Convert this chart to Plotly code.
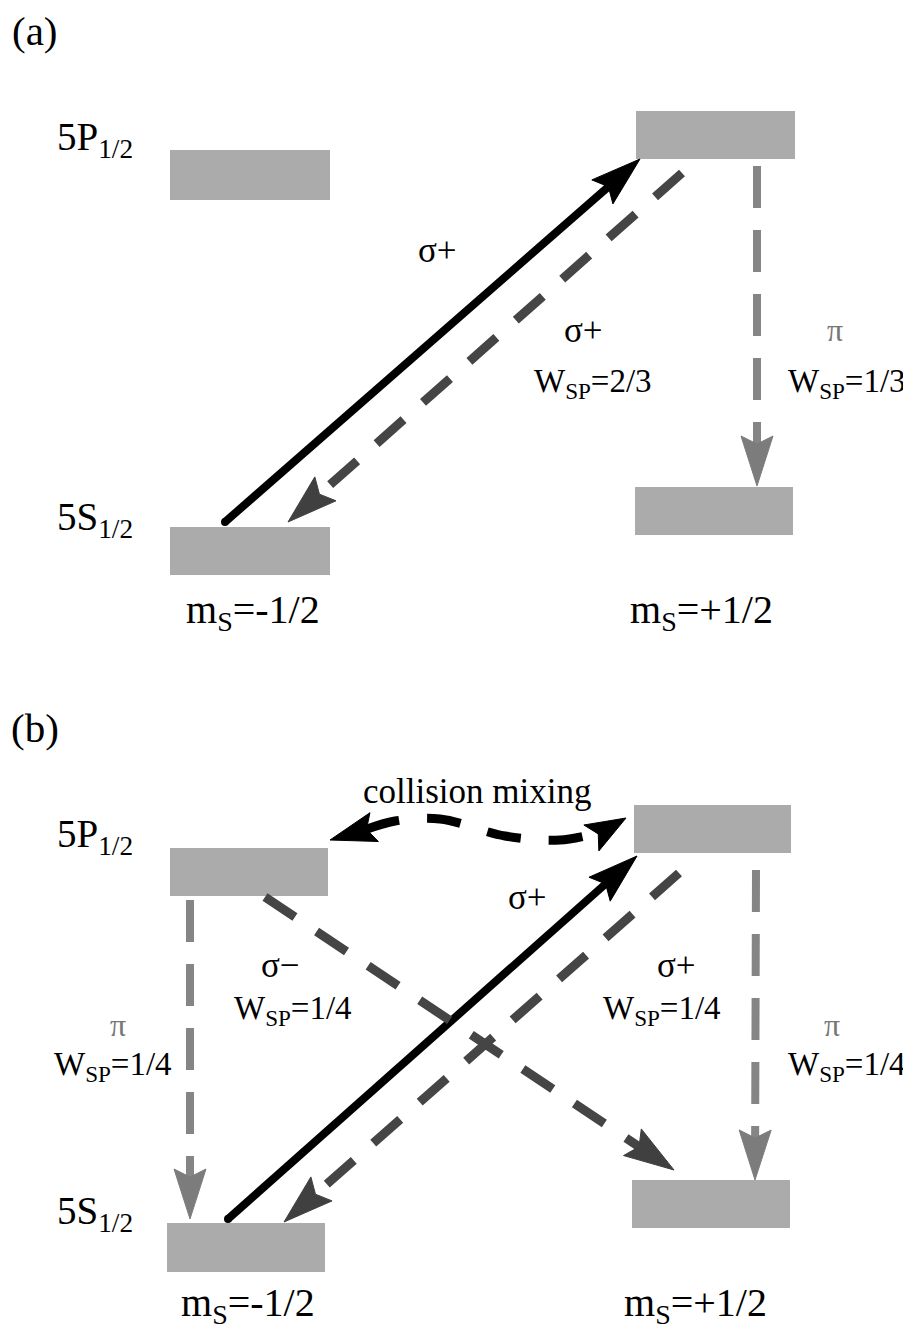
import math
import plotly.graph_objects as go

# ---------------- data ----------------
# energy level boxes (pixel-like diagram coordinates): panel a then panel b
level_names = ["5P a -1/2", "5P a +1/2", "5S a -1/2", "5S a +1/2",
               "5P b -1/2", "5P b +1/2", "5S b -1/2", "5S b +1/2"]
level_x0 = [170, 636, 170, 635, 170, 634, 167, 632]
level_x1 = [330, 795, 330, 793, 328, 791, 325, 790]
level_y0 = [150, 111, 527, 487, 848, 805, 1223, 1180]
level_y1 = [200, 159, 575, 535, 896, 853, 1272, 1228]

# transitions: start -> tip
trans_kind = ["pump", "decay", "pi", "pump", "decay", "decay", "pi", "pi"]
trans_x0 = [225, 682, 757, 228, 679, 265, 190, 756]
trans_y0 = [522, 173, 166, 1219, 873, 897, 900, 870]
trans_x1 = [640, 288, 757, 637, 284, 674, 190, 755]
trans_y1 = [159, 522, 486, 856, 1222, 1170, 1219, 1180]

# collision mixing curve (b)
mix_x = [330, 395, 440, 505, 560, 600, 626]
mix_y = [840, 821, 819, 836, 840, 833, 818]

# labels
label_text = ["(a)", "5P<sub>1/2</sub>", "5S<sub>1/2</sub>",
              "m<sub>S</sub>=-1/2", "m<sub>S</sub>=+1/2",
              "σ+", "σ+", "W<sub>SP</sub>=2/3", "π", "W<sub>SP</sub>=1/3",
              "(b)", "collision mixing", "5P<sub>1/2</sub>", "5S<sub>1/2</sub>",
              "σ+", "σ−", "W<sub>SP</sub>=1/4", "σ+", "W<sub>SP</sub>=1/4",
              "π", "W<sub>SP</sub>=1/4", "π", "W<sub>SP</sub>=1/4",
              "m<sub>S</sub>=-1/2", "m<sub>S</sub>=+1/2"]
label_x = [35, 95, 95, 253, 701, 437, 583, 593, 835, 847,
           35, 477, 95, 95, 527, 280, 293, 676, 662, 118, 113, 832, 847, 248, 695]
label_y = [31, 139, 519, 612, 612, 250, 330, 383, 330, 383,
           728, 791, 836, 1213, 897, 965, 1010, 965, 1010, 1025, 1066, 1025, 1066, 1305, 1305]
label_kind = ["panel", "level", "level", "ms", "ms", "sig", "sig", "w", "pi", "w",
              "panel", "mix", "level", "level", "sig", "sig", "w", "sig", "w", "pi", "w", "pi", "w", "ms", "ms"]

# ---------------- styles ----------------
FONT = "Liberation Serif, Times New Roman, serif"
font_size = {"panel": 41, "level": 39, "ms": 40, "sig": 35, "w": 33, "pi": 32, "mix": 35}
font_color = {"panel": "black", "level": "black", "ms": "black", "sig": "black",
              "w": "black", "pi": "#777777", "mix": "black"}
line_style = {
    "pump": dict(color="black", width=8, dash="solid"),
    "decay": dict(color="#454545", width=9, dash="36px,26px"),
    "pi": dict(color="#858585", width=8, dash="42px,22px"),
}
head_color = {"pump": "black", "decay": "#404040", "pi": "#7c7c7c"}
HEAD_L, HEAD_W, NOTCH = 50, 32, 8
PAGE_OFFSET = 8  # browser body margin

fig = go.Figure()

# level boxes
for x0, x1, y0, y1 in zip(level_x0, level_x1, level_y0, level_y1):
    fig.add_shape(type="rect", x0=x0, x1=x1, y0=y0, y1=y1, xref="x", yref="y",
                  fillcolor="#ababab", line=dict(width=0), layer="below")


def head_poly(xs, ys, xt, yt, L=HEAD_L, Wd=HEAD_W, notch=NOTCH):
    dx, dy = xt - xs, yt - ys
    n = math.hypot(dx, dy)
    ux, uy = dx / n, dy / n
    px, py = -uy, ux
    bx, by = xt - ux * L, yt - uy * L
    nx, ny = bx + ux * notch, by + uy * notch
    hx = [xt, bx + px * Wd / 2, nx, bx - px * Wd / 2, xt]
    hy = [yt, by + py * Wd / 2, ny, by - py * Wd / 2, yt]
    return hx, hy, nx, ny


for k, xs, ys, xt, yt in zip(trans_kind, trans_x0, trans_y0, trans_x1, trans_y1):
    hx, hy, nx, ny = head_poly(xs, ys, xt, yt)
    st = line_style[k]
    fig.add_trace(go.Scatter(x=[xs, nx], y=[ys, ny], mode="lines",
                             line=dict(color=st["color"], width=st["width"], dash=st["dash"]),
                             hoverinfo="skip", showlegend=False))
    fig.add_trace(go.Scatter(x=hx, y=hy, mode="lines", fill="toself",
                             fillcolor=head_color[k], line=dict(color=head_color[k], width=1),
                             hoverinfo="skip", showlegend=False))
    if k == "pump":
        fig.add_trace(go.Scatter(x=[xs], y=[ys], mode="markers",
                                 marker=dict(color="black", size=8),
                                 hoverinfo="skip", showlegend=False))

# collision mixing curve with two heads
hxL, hyL, nxL, nyL = head_poly(mix_x[1], mix_y[1], mix_x[0], mix_y[0], L=46, Wd=30)
hxR, hyR, nxR, nyR = head_poly(mix_x[-2], mix_y[-2], mix_x[-1], mix_y[-1], L=40, Wd=30)
fig.add_trace(go.Scatter(x=[nxL] + mix_x[1:-1] + [nxR], y=[nyL] + mix_y[1:-1] + [nyR],
                         mode="lines", line=dict(color="black", width=9, dash="34px,28px",
                                                 shape="spline", smoothing=1.0),
                         hoverinfo="skip", showlegend=False))
for hx, hy in ((hxL, hyL), (hxR, hyR)):
    fig.add_trace(go.Scatter(x=hx, y=hy, mode="lines", fill="toself", fillcolor="black",
                             line=dict(color="black", width=1), hoverinfo="skip", showlegend=False))

# labels
for t, x, y, k in zip(label_text, label_x, label_y, label_kind):
    fig.add_annotation(x=x, y=y, xref="x", yref="y", text=t, showarrow=False,
                       xanchor="center", yanchor="middle",
                       font=dict(family=FONT, size=font_size[k], color=font_color[k]))

fig.update_layout(
    width=911 - PAGE_OFFSET, height=1330 - PAGE_OFFSET,
    margin=dict(l=0, r=0, t=0, b=0),
    paper_bgcolor="white", plot_bgcolor="white",
    xaxis=dict(range=[PAGE_OFFSET, 911], visible=False, fixedrange=True),
    yaxis=dict(range=[1330, PAGE_OFFSET], visible=False, fixedrange=True),
    showlegend=False,
)

fig.write_html("out.html")
